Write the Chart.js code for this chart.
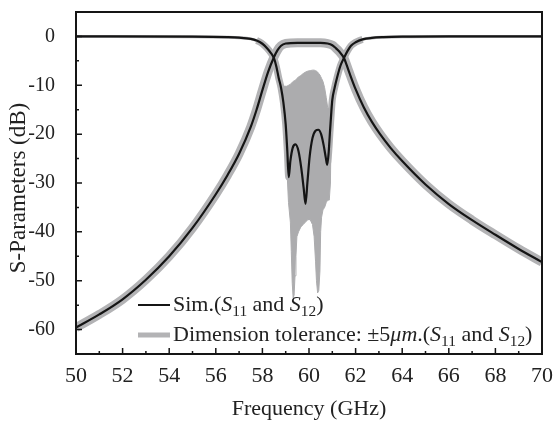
<!DOCTYPE html>
<html>
<head>
<meta charset="utf-8">
<script src="https://cdn.jsdelivr.net/npm/chart.js@4.4.1/dist/chart.umd.min.js"></script>
<style>
  body { margin: 0; background: #fff; }
  #wrap { width: 554px; height: 424px; }
</style>
</head>
<body>
<div id="wrap"><canvas id="sparamChart"></canvas></div>
<script>
// simulated S12 (transmission)
const s12Freq = [50, 51, 52, 53, 54, 55, 56, 56.5, 57, 57.5, 57.75, 58, 58.25, 58.5, 58.65, 58.8, 59, 59.5, 60, 60.5, 60.8, 61, 61.15, 61.3, 61.5, 61.7, 62, 62.35, 62.7, 63.05, 63.5, 64, 65, 66, 67, 68, 69, 70];
const s12Db = [-59.6, -56.9, -53.8, -49.8, -45.0, -39.2, -32.3, -28.4, -24.0, -18.5, -15.0, -11.0, -7.2, -4.2, -2.8, -1.9, -1.45, -1.3, -1.3, -1.3, -1.45, -1.8, -2.4, -3.1, -4.4, -7.0, -10.8, -14.5, -17.5, -20.0, -22.8, -25.5, -30.3, -34.3, -37.6, -40.6, -43.5, -46.2];

// simulated S11 (reflection)
const s11Freq = [50, 55, 56.5, 57, 57.5, 57.75, 58, 58.2, 58.35, 58.5, 58.6, 58.7, 58.8, 58.9, 59.0, 59.07, 59.13, 59.2, 59.3, 59.42, 59.55, 59.67, 59.77, 59.85, 59.93, 60.03, 60.15, 60.28, 60.4, 60.52, 60.63, 60.72, 60.78, 60.84, 60.9, 60.95, 61.0, 61.1, 61.2, 61.35, 61.5, 61.65, 61.8, 62.0, 62.3, 62.7, 63.2, 64, 66, 70];
const s11Db = [0, -0.05, -0.15, -0.25, -0.5, -0.85, -1.5, -2.4, -3.3, -4.5, -6.2, -8.5, -10.5, -13.5, -18.0, -23.5, -28.8, -25.5, -22.8, -22.1, -23.5, -27.0, -31.0, -34.3, -30.0, -24.5, -20.8, -19.3, -19.1, -20.0, -22.3, -24.8, -26.3, -24.0, -19.5, -16.0, -13.0, -10.5, -8.5, -6.0, -4.4, -3.0, -1.9, -1.2, -0.6, -0.3, -0.15, -0.05, 0, 0];

// tolerance (+-5 um) spread of S11 inside the passband
const tolFreq = [58.85, 58.95, 59.05, 59.12, 59.2, 59.24, 59.28, 59.32, 59.36, 59.4, 59.44, 59.48, 59.55, 59.65, 59.75, 59.85, 59.95, 60.05, 60.15, 60.22, 60.28, 60.32, 60.37, 60.42, 60.47, 60.5, 60.54, 60.6, 60.67, 60.74, 60.8, 60.87, 60.92, 60.96];
const tolUpper = [-9.8, -10.2, -10.2, -10.0, -9.8, -9.6, -9.4, -9.2, -9.1, -9.0, -8.8, -8.6, -8.3, -8.0, -7.6, -7.3, -7.1, -7.0, -6.9, -6.9, -7.0, -7.1, -7.3, -7.6, -7.9, -8.2, -8.6, -9.2, -10.5, -12.5, -14.5, -15.0, -14.5, -14.0];
const tolLower = [-10.5, -18.0, -27.0, -34.0, -38.0, -44.0, -50.5, -53.5, -53.0, -49.0, -45.0, -41.0, -40.0, -39.0, -38.5, -38.0, -37.5, -37.5, -38.5, -41.0, -46.0, -50.0, -52.5, -52.0, -48.0, -40.0, -37.0, -35.5, -35.0, -34.0, -33.5, -33.5, -30.0, -15.0];

const xTicks = [50, 52, 54, 56, 58, 60, 62, 64, 66, 68, 70];
const yTicks = [-60, -50, -40, -30, -20, -10, 0];

const pts = (xs, ys) => xs.map((x, i) => ({ x: x, y: ys[i] }));

const BLACK = "#151515";
const GRAY = "#b3b3b5";
const FILLGRAY = "#acacae";
const SERIF = "'Liberation Serif', 'Times New Roman', serif";

// draws text pieces with italic / subscript parts
function richText(ctx, parts, x, y, size) {
	ctx.textBaseline = "middle";
	ctx.textAlign = "left";
	for (const p of parts) {
		const fs = p.sub ? size * 0.7 : size;
		ctx.font = (p.it ? "italic " : "") + fs + "px " + SERIF;
		ctx.fillText(p.t, x, p.sub ? y + size * 0.3 : y);
		x += ctx.measureText(p.t).width;
	}
}

const frame = {
	id: "frame",
	afterDatasetsDraw(chart) {
		const { ctx, chartArea: a, scales } = chart;
		ctx.save();
		ctx.strokeStyle = BLACK;
		ctx.lineWidth = 2;
		ctx.strokeRect(a.left, a.top, a.right - a.left, a.bottom - a.top);
		// inward ticks
		ctx.lineWidth = 1.5;
		ctx.beginPath();
		for (let v = 50; v <= 70; v += 1) {
			const px = scales.x.getPixelForValue(v);
			const len = v % 2 === 0 ? 6 : 3;
			ctx.moveTo(px, a.bottom);
			ctx.lineTo(px, a.bottom - len);
		}
		for (let v = -65; v <= 5; v += 5) {
			const py = scales.y.getPixelForValue(v);
			const len = v % 10 === 0 ? 6 : 3;
			ctx.moveTo(a.left, py);
			ctx.lineTo(a.left + len, py);
		}
		ctx.stroke();

		// y axis title
		ctx.save();
		ctx.translate(19, 188);
		ctx.rotate(-Math.PI / 2);
		ctx.fillStyle = "#222";
		ctx.font = "23px " + SERIF;
		ctx.textAlign = "center";
		ctx.textBaseline = "middle";
		ctx.fillText("S-Parameters (dB)", 0, 0);
		ctx.restore();

		// legend
		const lx = 138, ly1 = 305, ly2 = 335;
		ctx.lineCap = "butt";
		ctx.strokeStyle = BLACK;
		ctx.lineWidth = 2;
		ctx.beginPath();
		ctx.moveTo(lx, ly1);
		ctx.lineTo(lx + 32, ly1);
		ctx.stroke();
		ctx.strokeStyle = GRAY;
		ctx.lineWidth = 5;
		ctx.beginPath();
		ctx.moveTo(lx, ly2);
		ctx.lineTo(lx + 32, ly2);
		ctx.stroke();
		ctx.fillStyle = "#222";
		const tail = [
			{ t: "S", it: true }, { t: "11", sub: true }, { t: " and " },
			{ t: "S", it: true }, { t: "12", sub: true }, { t: ")" },
		];
		richText(ctx, [{ t: "Sim.(" }].concat(tail), lx + 35, ly1, 22);
		richText(ctx, [{ t: "Dimension tolerance: \u00b15" }, { t: "\u03bcm", it: true }, { t: ".(" }].concat(tail), lx + 35, ly2, 22);
		ctx.restore();
	},
};

new Chart(document.getElementById("sparamChart"), {
	type: "line",
	data: {
		datasets: [
			{
				data: pts(s11Freq, s11Db),
				borderColor: BLACK,
				borderWidth: 2.2,
				pointRadius: 0,
				cubicInterpolationMode: "monotone",
			},
			{
				data: pts(s12Freq, s12Db),
				borderColor: BLACK,
				borderWidth: 2.2,
				pointRadius: 0,
				cubicInterpolationMode: "monotone",
			},
			{
				data: pts(tolFreq, tolUpper),
				borderColor: FILLGRAY,
				backgroundColor: FILLGRAY,
				borderWidth: 1,
				pointRadius: 0,
				tension: 0,
				fill: "+1",
			},
			{
				data: pts(tolFreq, tolLower),
				borderColor: FILLGRAY,
				borderWidth: 1,
				pointRadius: 0,
				tension: 0,
			},
			{
				data: pts(s11Freq, s11Db),
				borderColor: GRAY,
				pointRadius: 0,
				cubicInterpolationMode: "monotone",
				segment: {
					borderWidth: (c) => (c.p0.parsed.x >= 57.75 && c.p1.parsed.x <= 62.3 ? 7 : 3),
				},
			},
			{
				data: pts(s12Freq, s12Db),
				borderColor: GRAY,
				borderWidth: 9,
				pointRadius: 0,
				cubicInterpolationMode: "monotone",
			},
		],
	},
	options: {
		responsive: true,
		maintainAspectRatio: false,
		animation: false,
		layout: { padding: { left: 0, right: 12, top: 12, bottom: 0 } },
		plugins: {
			legend: { display: false },
			tooltip: { enabled: false },
		},
		scales: {
			x: {
				type: "linear",
				min: 50,
				max: 70,
				grid: { display: false },
				border: { display: false },
				afterBuildTicks: (s) => { s.ticks = xTicks.map((v) => ({ value: v })); },
				afterFit: (s) => { s.height = 70; s.paddingRight = 0; },
				ticks: {
					padding: 1,
					color: "#222",
					font: { family: SERIF, size: 22 },
					callback: (v) => String(v),
				},
				title: {
					display: true,
					text: "Frequency (GHz)",
					color: "#222",
					font: { family: SERIF, size: 22 },
					padding: { top: 0, bottom: 2 },
				},
			},
			y: {
				min: -65,
				max: 5,
				grid: { display: false },
				border: { display: false },
				afterBuildTicks: (s) => { s.ticks = yTicks.map((v) => ({ value: v })); },
				afterFit: (s) => { s.width = 76; s.paddingTop = 0; s.paddingBottom = 0; },
				ticks: {
					padding: 13,
					color: "#222",
					font: { family: SERIF, size: 20 },
					callback: (v) => String(v),
				},
			},
		},
	},
	plugins: [frame],
});
</script>
</body>
</html>
